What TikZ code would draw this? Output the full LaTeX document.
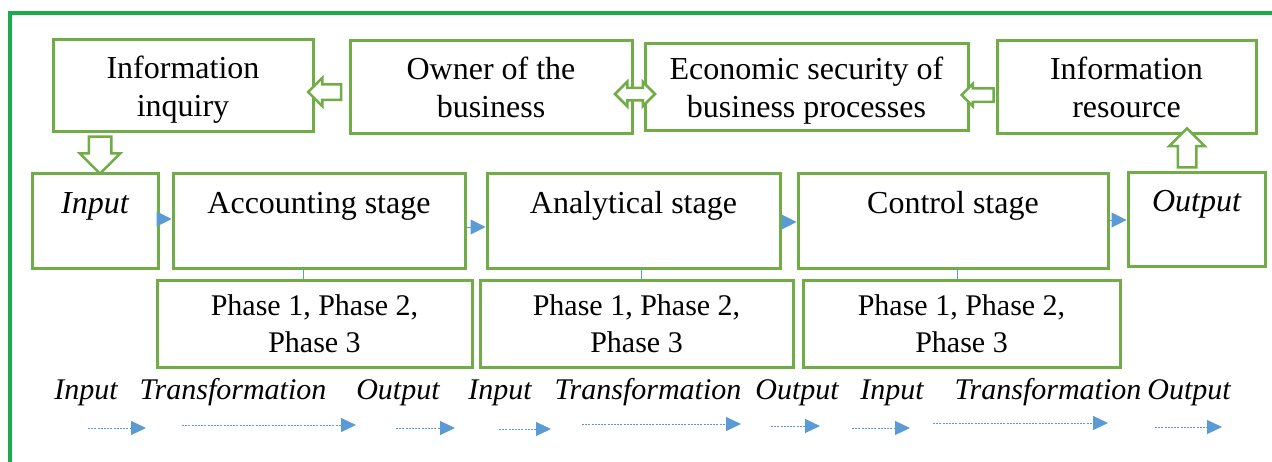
\documentclass[tikz,border=0pt]{standalone}
\usepackage{fontspec}
\setmainfont{Liberation Serif}
\usetikzlibrary{arrows.meta,shapes.arrows,calc}
\definecolor{boxgreen}{HTML}{70AD47}
\definecolor{framegreen}{HTML}{1AAB4B}
\definecolor{arrblue}{HTML}{5B9BD5}
\newcommand{\twolines}[2]{\rule{0pt}{32pt}#1\\#2\rule[-8pt]{0pt}{0pt}}
\begin{document}
\begin{tikzpicture}[x=1pt,y=-1pt,
  box/.style={draw=boxgreen, line width=3pt, fill=white, rectangle, inner sep=0pt, align=center, font=\fontsize{32}{38}\selectfont},
  stagebox/.style={box, text height=24pt, text depth=39pt},
  phasebox/.style={box, font=\fontsize{30}{37}\selectfont},
  blockarr/.style={draw=boxgreen, line width=2.5pt, fill=white, single arrow, inner xsep=0pt, minimum width=0pt, single arrow tip angle=90},
  dblarr/.style={draw=boxgreen, line width=2.5pt, fill=white, double arrow, inner xsep=0pt, minimum width=0pt, double arrow tip angle=90},
  flow/.style={draw=arrblue, line width=1pt, -{Triangle[length=15pt,width=15pt]}},
  dflow/.style={draw=arrblue, line width=1pt, dash pattern=on 2pt off 1.2pt, -{Triangle[length=15pt,width=14pt]}},
  tie/.style={draw=arrblue, line width=1pt},
  lab/.style={font=\fontsize{30}{36}\selectfont\itshape, anchor=base, inner sep=0pt}
]
\useasboundingbox (0,0) rectangle (1272,461);
\fill[white] (0,0) rectangle (1272,461);
% outer frame
\coordinate (fa) at (10,470);
\coordinate (fb) at (10,13);
\coordinate (fc) at (1280,13);
\draw[framegreen, line width=4pt] (fa) -- (fb) -- (fc);

% top row
\node[box, minimum width=260pt, minimum height=92pt] (inq) at (183,85) {\twolines{Information}{inquiry}};
\node[box, minimum width=282pt, minimum height=93pt] (own) at (491,86.5) {\twolines{Owner of the}{business}};
\node[box, minimum width=323pt, minimum height=87pt] (eco) at (806.5,86.5) {\twolines{Economic security of}{business processes}};
\node[box, minimum width=259pt, minimum height=93pt] (res) at (1126.5,86.5) {\twolines{Information}{resource}};

% middle row
\node[stagebox, minimum width=126pt, minimum height=95pt, font=\fontsize{32}{38}\selectfont\itshape] (inp) at (95,220.5) {Input};
\node[stagebox, minimum width=292pt, minimum height=95pt] (acc) at (319,220.5) {Accounting stage};
\node[stagebox, minimum width=293pt, minimum height=95pt] (ana) at (633.5,220.5) {Analytical stage};
\node[stagebox, minimum width=310pt, minimum height=95pt] (con) at (953,220.5) {Control stage};
\node[stagebox, minimum width=137pt, minimum height=94pt, font=\fontsize{32}{38}\selectfont\itshape] (out) at (1196.5,219) {Output};

% phase row
\node[phasebox, minimum width=315pt, minimum height=87pt] (ph1) at (314.5,323.5) {\rule{0pt}{21pt}Phase 1, Phase 2,\\Phase 3};
\node[phasebox, minimum width=313pt, minimum height=87pt] (ph2) at (636.5,323.5) {\rule{0pt}{21pt}Phase 1, Phase 2,\\Phase 3};
\node[phasebox, minimum width=317pt, minimum height=87pt] (ph3) at (961.5,323.5) {\rule{0pt}{21pt}Phase 1, Phase 2,\\Phase 3};

% stage-phase ties
\draw[tie] ([xshift=-16pt]acc.south) -- ([xshift=-16pt]acc.south |- ph1.north);
\draw[tie] ([xshift=7.5pt]ana.south) -- ([xshift=7.5pt]ana.south |- ph2.north);
\draw[tie] ([xshift=4pt]con.south) -- ([xshift=4pt]con.south |- ph3.north);

% stage flow arrows
\draw[flow] ([yshift=1.5pt]inp.east) -- ([yshift=1.5pt]inp.east -| acc.west);
\draw[flow] ([yshift=-6.5pt]acc.east) -- ([yshift=-6.5pt]acc.east -| ana.west);
\draw[flow] ([yshift=-1.5pt]ana.east) -- ([yshift=-1.5pt]ana.east -| con.west);
\draw[flow] ([yshift=0.5pt]con.east) -- ([yshift=0.5pt]con.east -| out.west);

% block arrows
\node[blockarr, rotate=180, minimum height=33pt, inner ysep=6.5pt, single arrow head extend=6.5pt] (a1) at (328.5,92) {};
\node[dblarr, minimum height=40pt, inner ysep=5pt, double arrow head extend=6pt] (a2) at (635,94) {};
\node[blockarr, rotate=180, minimum height=32pt, inner ysep=5.5pt, single arrow head extend=4.5pt] (a3) at (981,95) {};
\node[blockarr, rotate=-90, minimum height=37pt, inner ysep=10pt, single arrow head extend=9pt] (a4) at (100,149.5) {};
\node[blockarr, rotate=90, minimum height=39pt, inner ysep=8pt, single arrow head extend=8.5pt] (a5) at (1187,152.5) {};

% bottom labels
\node[lab] (l1) at (86,399) {Input};
\node[lab] (l2) at (233,399) {Transformation};
\node[lab] (l3) at (398,399) {Output};
\node[lab] (l4) at (500,399) {Input};
\node[lab] (l5) at (648,399) {Transformation};
\node[lab] (l6) at (797,399) {Output};
\node[lab] (l7) at (892,399) {Input};
\node[lab] (l8) at (1048,399) {Transformation};
\node[lab] (l9) at (1189,399) {Output};

% bottom dashed arrows
\coordinate (s1) at (88,428);   \coordinate (e1) at (146,428);
\coordinate (s2) at (182,425);  \coordinate (e2) at (356,425);
\coordinate (s3) at (396,428);  \coordinate (e3) at (455,428);
\coordinate (s4) at (499,429);  \coordinate (e4) at (551,429);
\coordinate (s5) at (582,424);  \coordinate (e5) at (741,424);
\coordinate (s6) at (771,426);  \coordinate (e6) at (820,426);
\coordinate (s7) at (852,428);  \coordinate (e7) at (910,428);
\coordinate (s8) at (933,423);  \coordinate (e8) at (1108,423);
\coordinate (s9) at (1155,427); \coordinate (e9) at (1222,427);
\foreach \i in {1,...,9} {\draw[dflow] (s\i) -- (e\i);}
\end{tikzpicture}
\end{document}
